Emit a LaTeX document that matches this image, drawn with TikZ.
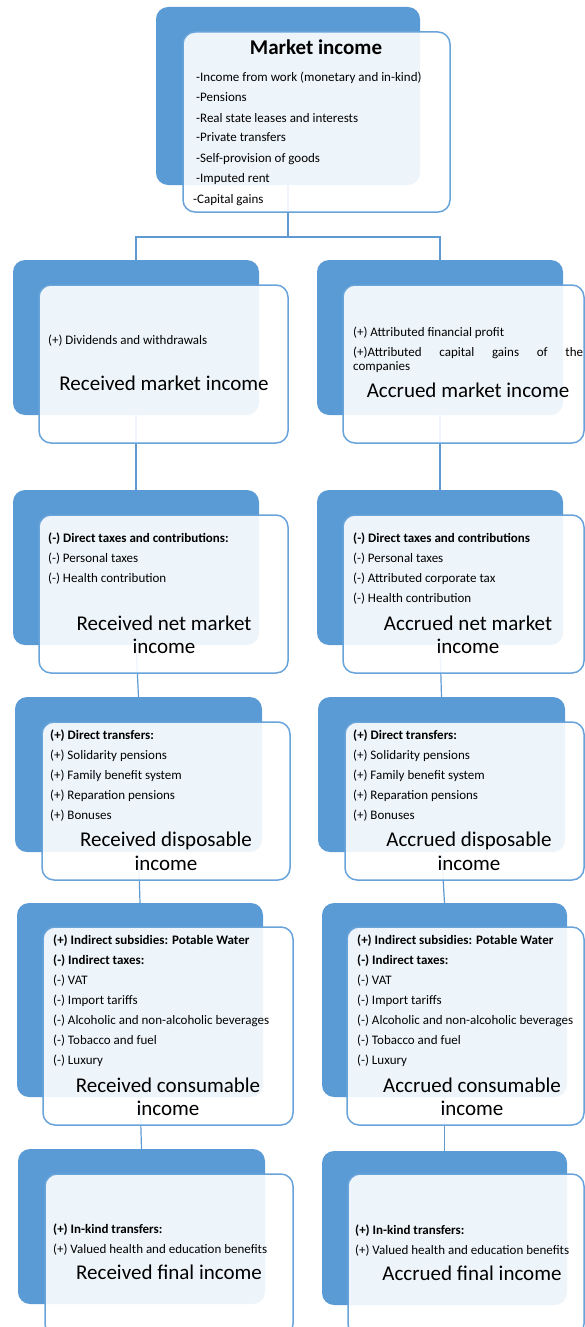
\documentclass[tikz,border=0pt]{standalone}
\usepackage{fontspec}
\setmainfont{Carlito}
\pgfdeclarelayer{bg}
\pgfsetlayers{bg,main}
\definecolor{accent}{RGB}{91,155,213}
\definecolor{edgeblue}{RGB}{104,163,218}
\definecolor{connblue}{RGB}{95,155,210}
\tikzset{
  darkbox/.style={fill=accent, rounded corners=12pt, inner sep=0pt, outer sep=0pt},
  whitebox/.style={fill=white, fill opacity=0.9, draw=edgeblue, line width=1.5pt, rounded corners=12pt, inner sep=0pt, outer sep=0pt},
  itm/.style={anchor=base west, inner sep=0pt, font=\fontsize{13}{15}\selectfont, text=black},
  ttl/.style={anchor=base, inner sep=0pt, font=\fontsize{21}{24}\selectfont, text=black},
  connline/.style={draw=connblue, line width=1.2pt}
}
% box: name, style, x1, y1, x2, y2 (pixel coordinates, y downwards)
\newcommand\mkbox[6]{\node[#2, minimum width={(#5)-(#3)}, minimum height={(#6)-(#4)}] (#1) at ({((#3)+(#5))/2},{((#4)+(#6))/2}) {};}
% item lines: name prefix, x, first baseline, list
\newcommand\itemlines[4]{\foreach \t [count=\i] in {#4}{\node[itm] (#1-\i) at (#2,{#3+20*(\i-1)}) {\t};}}
\begin{document}
\begin{tikzpicture}[x=1pt,y=-1pt]
\useasboundingbox (0,0) rectangle (585,1327);

% ---------- top ----------
\mkbox{dtop}{darkbox}{156}{7}{420}{185}
\mkbox{wtop}{whitebox}{183}{32}{450}{212}
\node[ttl, font=\fontsize{21}{24}\selectfont\bfseries] (ttop) at (316,55) {Market income};
\itemlines{itop}{196}{82}{-Income from work (monetary and in-kind),-Pensions,-Real state leases and interests,-Private transfers,-Self-provision of goods,-Imputed rent}
\node[itm] (itop-7) at (193,203) {-Capital gains};

% ---------- row 2 ----------
\mkbox{d2l}{darkbox}{13}{260}{259}{415}
\mkbox{w2l}{whitebox}{39}{285}{288}{443}
\mkbox{d2r}{darkbox}{317}{260}{563}{415}
\mkbox{w2r}{whitebox}{343}{285}{584}{443}
\node[itm] (i2l-1) at (48,344) {(+) Dividends and withdrawals};
\node[ttl] (t2l) at (164,390) {Received market income};
\node[itm] (i2r-1) at (353,336) {(+) Attributed financial profit};
\node[itm] (i2r-2) at (353,356) {\makebox[230pt][s]{(+)Attributed capital gains of the}};
\node[itm] (i2r-3) at (353,370) {companies};
\node[ttl] (t2r) at (468,397) {Accrued market income};

% ---------- row 3 ----------
\mkbox{d3l}{darkbox}{13}{490}{259}{645}
\mkbox{w3l}{whitebox}{39}{515}{288}{673}
\mkbox{d3r}{darkbox}{317}{490}{563}{645}
\mkbox{w3r}{whitebox}{343}{515}{584}{673}
\itemlines{i3l}{48}{542}{{\bfseries (-) Direct taxes and contributions:},(-) Personal taxes,(-) Health contribution}
\node[ttl] (t3l-a) at (164,630) {Received net market};
\node[ttl] (t3l-b) at (164,653) {income};
\itemlines{i3r}{353}{542}{{\bfseries (-) Direct taxes and contributions},(-) Personal taxes,(-) Attributed corporate tax,(-) Health contribution}
\node[ttl] (t3r-a) at (468,630) {Accrued net market};
\node[ttl] (t3r-b) at (468,653) {income};

% ---------- row 4 ----------
\mkbox{d4l}{darkbox}{15}{697}{262}{852}
\mkbox{w4l}{whitebox}{42}{722}{290}{880}
\mkbox{d4r}{darkbox}{318}{697}{565}{852}
\mkbox{w4r}{whitebox}{345}{722}{584}{880}
\itemlines{i4l}{50}{739}{{\bfseries (+) Direct transfers:},(+) Solidarity pensions,(+) Family benefit system,(+) Reparation pensions,(+) Bonuses}
\node[ttl] (t4l-a) at (166,846) {Received disposable};
\node[ttl] (t4l-b) at (166,870) {income};
\itemlines{i4r}{353}{739}{{\bfseries (+) Direct transfers:},(+) Solidarity pensions,(+) Family benefit system,(+) Reparation pensions,(+) Bonuses}
\node[ttl] (t4r-a) at (469,846) {Accrued disposable};
\node[ttl] (t4r-b) at (469,870) {income};

% ---------- row 5 ----------
\mkbox{d5l}{darkbox}{17}{903}{263}{1097}
\mkbox{w5l}{whitebox}{43}{927}{293}{1125}
\mkbox{d5r}{darkbox}{322}{903}{567}{1097}
\mkbox{w5r}{whitebox}{347}{927}{584}{1125}
\itemlines{i5l}{53}{944}{{\bfseries (+) Indirect subsidies: Potable Water},{\bfseries (-) Indirect taxes:},(-) VAT,(-) Import tariffs,(-) Alcoholic and non-alcoholic beverages,(-) Tobacco and fuel,(-) Luxury}
\node[ttl] (t5l-a) at (168,1092) {Received consumable};
\node[ttl] (t5l-b) at (168,1115) {income};
\itemlines{i5r}{357}{944}{{\bfseries (+) Indirect subsidies: Potable Water},{\bfseries (-) Indirect taxes:},(-) VAT,(-) Import tariffs,(-) Alcoholic and non-alcoholic beverages,(-) Tobacco and fuel,(-) Luxury}
\node[ttl] (t5r-a) at (472,1092) {Accrued consumable};
\node[ttl] (t5r-b) at (472,1115) {income};

% ---------- row 6 ----------
\mkbox{d6l}{darkbox}{18}{1149}{265}{1304}
\mkbox{w6l}{whitebox}{45}{1174}{293}{1336}
\mkbox{d6r}{darkbox}{322}{1151}{567}{1305}
\mkbox{w6r}{whitebox}{348}{1174}{584}{1336}
\itemlines{i6l}{53}{1233}{{\bfseries (+) In-kind transfers:},(+) Valued health and education benefits}
\node[ttl] (t6l) at (169,1279) {Received final income};
\itemlines{i6r}{355}{1234}{{\bfseries (+) In-kind transfers:},(+) Valued health and education benefits}
\node[ttl] (t6r) at (472,1280) {Accrued final income};

% ---------- connectors ----------
\coordinate (hub) at (288,237);
\begin{pgfonlayer}{bg}
\draw[connline] (dtop.south) -- (hub);
\draw[connline] (hub) -| (d2l.north);
\draw[connline] (hub) -| (d2r.north);
\draw[connline] (d2l.south) -- (d3l.north);
\draw[connline] (d3l.south) -- (d4l.north);
\draw[connline] (d4l.south) -- (d5l.north);
\draw[connline] (d5l.south) -- (d6l.north);
\draw[connline] (d2r.south) -- (d3r.north);
\draw[connline] (d3r.south) -- (d4r.north);
\draw[connline] (d4r.south) -- (d5r.north);
\draw[connline] (d5r.south) -- (d6r.north);
\end{pgfonlayer}
\end{tikzpicture}
\end{document}
